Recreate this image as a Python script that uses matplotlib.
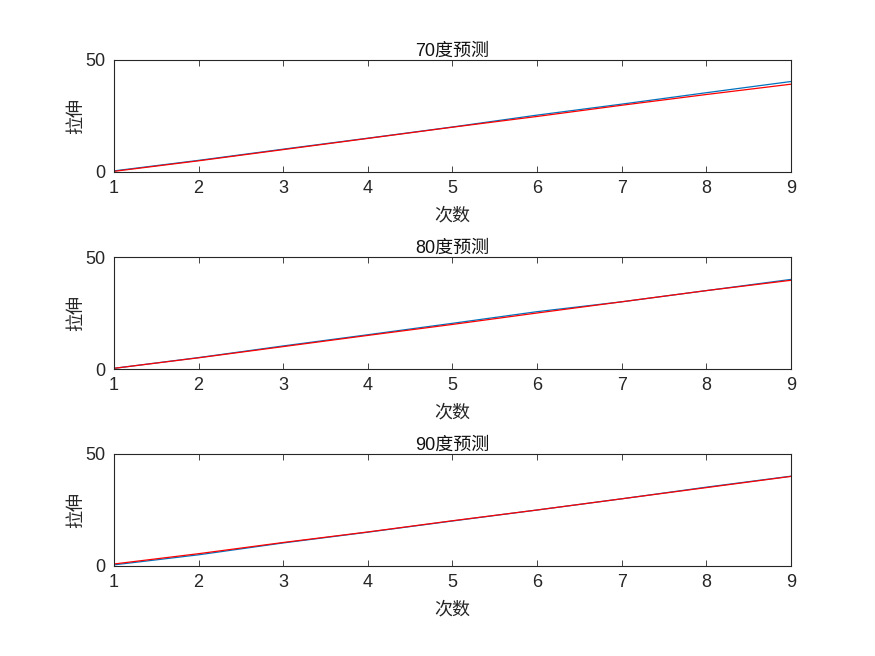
import matplotlib.pyplot as plt
import numpy as np

plt.rcParams['font.family'] = ['Liberation Sans', 'Noto Sans CJK SC', 'DejaVu Sans']

times = [1, 2, 3, 4, 5, 6, 7, 8, 9]

titles = ["70度预测", "80度预测", "90度预测"]

# blue = measured, red = predicted
actual_70 = [0.5, 5.2, 10.2, 15.1, 20.1, 25.4, 30.3, 35.4, 40.4]
pred_70 = [0.3, 5.0, 10.0, 15.0, 20.0, 24.8, 29.8, 34.6, 39.2]
actual_80 = [0.3, 5.1, 10.3, 15.3, 20.4, 25.6, 30.0, 35.0, 40.0]
pred_80 = [0.3, 5.0, 10.0, 15.0, 19.9, 25.0, 30.0, 35.0, 39.6]
actual_90 = [0.5, 5.0, 10.3, 15.1, 20.1, 25.0, 30.0, 35.2, 40.1]
pred_90 = [0.9, 5.5, 10.5, 15.2, 20.2, 25.0, 30.0, 35.0, 40.0]

actual = [actual_70, actual_80, actual_90]
pred = [pred_70, pred_80, pred_90]

fig = plt.figure(figsize=(8.75, 6.56), dpi=100)

left = 114 / 875
width = (791 - 114) / 875
tops = [60, 257, 454]
h = 112

for i in range(3):
    bottom = 1 - (tops[i] + h) / 656
    ax = fig.add_axes([left, bottom, width, h / 656])
    ax.plot(times, actual[i], color=(0, 0.447, 0.741), linewidth=0.9)
    ax.plot(times, pred[i], color="red", linewidth=0.9)
    ax.set_xlim(1, 9)
    ax.set_ylim(0, 50)
    ax.set_xticks(times)
    ax.set_yticks([0, 50])
    ax.tick_params(direction="in", top=True, right=True, labelsize=13, length=4, width=0.6, pad=6, colors="#262626")
    for s in ax.spines.values():
        s.set_linewidth(0.8)
        s.set_color("#262626")
    ax.set_title(titles[i], fontsize=13, pad=3, color="#111111")
    ax.set_xlabel("次数", fontsize=13, labelpad=7, color="#262626")
    ax.set_ylabel("拉伸", fontsize=13, labelpad=0, color="#262626")

plt.savefig("out.png", dpi=100)
